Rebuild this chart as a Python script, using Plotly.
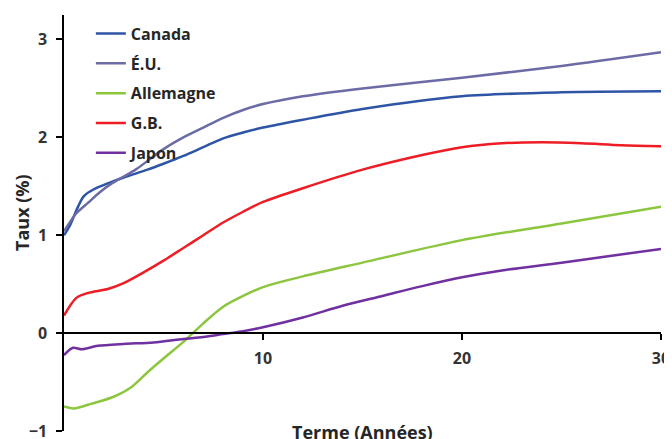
import plotly.graph_objects as go

# ---- data ----
canada_x = [0, 0.3, 0.7, 1.0, 1.5, 2.2, 3, 4.2, 5, 6, 7, 8, 9, 10, 12, 15, 20, 25, 30]
canada_y = [1.0, 1.1, 1.29, 1.4, 1.47, 1.53, 1.59, 1.67, 1.73, 1.81, 1.9, 1.99, 2.05, 2.1, 2.18, 2.29, 2.42, 2.46, 2.47]

eu_x = [0, 0.6, 1.2, 1.8, 2.4, 3, 3.6, 5, 6, 7, 8, 9, 10, 12, 15, 20, 25, 30]
eu_y = [1.04, 1.22, 1.33, 1.44, 1.53, 1.6, 1.67, 1.88, 2.0, 2.1, 2.2, 2.28, 2.34, 2.42, 2.5, 2.61, 2.73, 2.87]

all_x = [0, 0.5, 1.4, 2.5, 3.4, 4.2, 5, 6, 7, 8, 9, 10, 12, 15, 20, 25, 30]
all_y = [-0.75, -0.77, -0.72, -0.65, -0.55, -0.4, -0.26, -0.09, 0.1, 0.27, 0.38, 0.47, 0.58, 0.72, 0.95, 1.12, 1.29]

gb_x = [0, 0.62, 1.2, 2.2, 3, 4, 5, 6, 7, 8, 9, 10, 12, 15, 18, 20, 22, 24, 26, 28, 30]
gb_y = [0.18, 0.36, 0.41, 0.45, 0.51, 0.62, 0.74, 0.87, 1.0, 1.13, 1.24, 1.34, 1.48, 1.67, 1.82, 1.9, 1.94, 1.95, 1.94, 1.92, 1.91]

jp_x = [0, 0.45, 0.9, 1.7, 3, 4.5, 6, 7, 8, 9, 10, 12, 14, 16, 18, 20, 22, 25, 30]
jp_y = [-0.225, -0.15, -0.165, -0.13, -0.11, -0.095, -0.06, -0.04, -0.01, 0.02, 0.06, 0.16, 0.28, 0.38, 0.48, 0.57, 0.64, 0.72, 0.86]

x_ticks = [10, 20, 30]
y_ticks = [-1, 0, 1, 2, 3]

series = [
    ("Canada", canada_x, canada_y, "#2E55A5"),
    ("É.U.", eu_x, eu_y, "#6B6BA6"),
    ("Allemagne", all_x, all_y, "#8CC63F"),
    ("G.B.", gb_x, gb_y, "#EE1D25"),
    ("Japon", jp_x, jp_y, "#7030A0"),
]

FONT = "Open Sans"
fig = go.Figure()
for i, (name, xs, ys, col) in enumerate(series):
    fig.add_trace(go.Scatter(
        x=xs, y=ys, name=name, mode="lines",
        line=dict(color=col, width=2.5, shape="spline", smoothing=0.8),
        legendgroup=f"g{i}",
    ))

ymin, ymax = -1, 3.25
fig.update_layout(
    width=672, height=439,
    margin=dict(l=56, r=19, t=7, b=16, autoexpand=False),
    paper_bgcolor="white", plot_bgcolor="white",
    font=dict(family=FONT, size=16, color="#262626"),
    showlegend=True,
    legend=dict(
        x=0.045, y=0.996, xanchor="left", yanchor="top",
        bgcolor="rgba(0,0,0,0)", tracegroupgap=6,
        font=dict(family=FONT, size=16, color="#262626", weight="bold"),
    ),
    xaxis=dict(
        range=[0, 30], tickvals=x_ticks, anchor="free",
        position=(0 - ymin) / (ymax - ymin), automargin=False,
        showline=True, linecolor="black", linewidth=1.5,
        ticks="outside", ticklen=6, tickcolor="black", tickwidth=1.5,
        showgrid=False, zeroline=False, ticklabelstandoff=5,
        tickfont=dict(family=FONT, size=16, color="#333333", weight="bold"),
    ),
    yaxis=dict(
        range=[ymin, ymax], tickvals=y_ticks, automargin=False,
        showline=True, linecolor="black", linewidth=1.5,
        ticks="outside", ticklen=6, tickcolor="black", tickwidth=1.5,
        showgrid=False, zeroline=False, ticklabelstandoff=6,
        tickfont=dict(family=FONT, size=16, color="#333333", weight="bold"),
    ),
    annotations=[
        dict(text="<b>Terme (Années)</b>", xref="paper", yref="paper",
             x=0.5, y=0, yshift=-1, xanchor="center", yanchor="middle",
             showarrow=False, font=dict(family=FONT, size=18, color="#262626")),
        dict(text="<b>Taux (%)</b>", xref="paper", yref="paper",
             x=0, xshift=-42, y=1 - (213 - 15) / (431 - 15), yanchor="middle",
             textangle=-90, xanchor="center", showarrow=False,
             font=dict(family=FONT, size=18, color="#262626")),
    ],
)

fig.write_html("out.html")
